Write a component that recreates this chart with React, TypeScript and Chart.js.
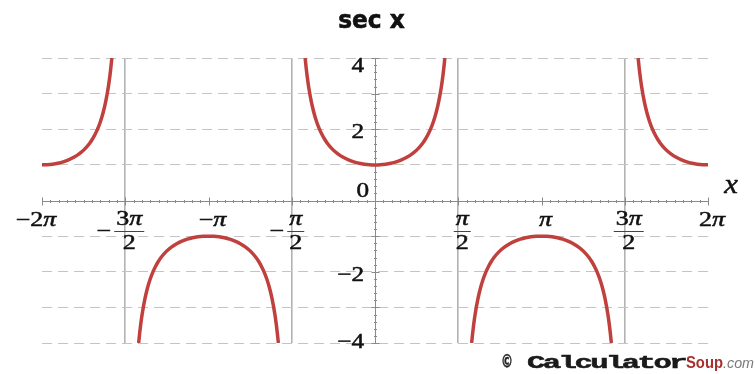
import React, { useEffect, useRef } from 'react';
import { Chart, registerables } from 'chart.js';

Chart.register(...registerables);

const PI = Math.PI;

// One half of a secant branch: distance from the branch centre (radians) and |sec x| there.
const BRANCH_OFFSETS = [0, 0.1, 0.2, 0.3, 0.4, 0.5, 0.6, 0.7, 0.8, 0.9, 0.95, 1.0, 1.05, 1.1, 1.15, 1.2, 1.25, 1.28, 1.3, 1.3181];
const BRANCH_VALUES = [1, 1.005, 1.0203, 1.0468, 1.0857, 1.1395, 1.2116, 1.3075, 1.4353, 1.6087, 1.7191, 1.8508, 2.0098, 2.2046, 2.4481, 2.7597, 3.1714, 3.4878, 3.7383, 4.0];

// Branch centres (multiples of π) and the sign of sec x on each branch.
const BRANCH_CENTERS = [-2, -1, 0, 1, 2];
const BRANCH_SIGNS = [1, -1, 1, -1, 1];

// Plot window: x in multiples of π, y in plain units.
const X_RANGE = [-2, 2];
const Y_RANGE = [-4, 4];

// x ticks (multiples of π) and their labels, written as numerator / denominator.
const X_TICKS = [-2, -1.5, -1, -0.5, 0, 0.5, 1, 1.5, 2];
const X_LABEL_NUM = ['−2π', '3π', '−π', 'π', '', 'π', 'π', '3π', '2π'];
const X_LABEL_DEN = ['', '2', '', '2', '', '2', '', '2', ''];
const X_LABEL_NEG = [false, true, false, true, false, false, false, false, false];

// y tick labels
const Y_LABEL_VALUES = [4, 2, 0, -2, -4];
const Y_LABELS = ['4', '2', '0', '−2', '−4'];

const TITLE = 'sec x';
const AXIS_NAME = 'x';

const CURVE_COLOR = '#c0403e';
const SERIF = '"Liberation Serif", "DejaVu Serif", serif';
const LABEL_SIZE = 20;
const LABEL_SX = 1.3;

function branchPoints(center: number, sign: number) {
  const pts: { x: number; y: number }[] = [];
  const n = BRANCH_OFFSETS.length;
  for (let i = n - 1; i > 0; i--) pts.push({ x: center * PI - BRANCH_OFFSETS[i], y: sign * BRANCH_VALUES[i] });
  for (let i = 0; i < n; i++) pts.push({ x: center * PI + BRANCH_OFFSETS[i], y: sign * BRANCH_VALUES[i] });
  const lo = X_RANGE[0] * PI - 1e-9;
  const hi = X_RANGE[1] * PI + 1e-9;
  return pts.filter((p) => p.x >= lo && p.x <= hi);
}

// Draws text squeezed/stretched horizontally by sx around the anchor.
function stretchText(ctx: CanvasRenderingContext2D, text: string, x: number, y: number, sx: number, align: CanvasTextAlign, bold = 0) {
  ctx.save();
  ctx.translate(x, y);
  ctx.scale(sx, 1);
  ctx.textAlign = align;
  ctx.textBaseline = 'alphabetic';
  ctx.fillText(text, 0, 0);
  if (bold > 0) {
    ctx.lineWidth = bold;
    ctx.strokeStyle = ctx.fillStyle as string;
    ctx.strokeText(text, 0, 0);
  }
  ctx.restore();
}

// Math label: π set in italic, digits and signs upright.
function mathRuns(text: string) {
  const runs: { t: string; italic: boolean }[] = [];
  for (const ch of text) {
    const italic = ch === 'π';
    const last = runs[runs.length - 1];
    if (last && last.italic === italic) last.t += ch;
    else runs.push({ t: ch, italic });
  }
  return runs;
}

function mathWidth(ctx: CanvasRenderingContext2D, text: string, size: number) {
  let w = 0;
  for (const r of mathRuns(text)) {
    ctx.font = `${r.italic ? 'italic ' : ''}${size}px ${SERIF}`;
    w += ctx.measureText(r.t).width;
  }
  return w * LABEL_SX;
}

function drawMath(ctx: CanvasRenderingContext2D, text: string, cx: number, base: number, size: number) {
  const total = mathWidth(ctx, text, size);
  let x = cx - total / 2;
  for (const r of mathRuns(text)) {
    ctx.font = `${r.italic ? 'italic ' : ''}${size}px ${SERIF}`;
    const w = ctx.measureText(r.t).width * LABEL_SX;
    stretchText(ctx, r.t, x, base, LABEL_SX, 'left', 0.5);
    x += w;
  }
  return total;
}

// Draws text from a left edge so it spans exactly `width` pixels.
function fitText(
  ctx: CanvasRenderingContext2D,
  text: string,
  left: number,
  base: number,
  width: number,
  font: string,
  color: string,
  spacing = 0,
  bold = 0
) {
  ctx.save();
  ctx.font = font;
  ctx.fillStyle = color;
  (ctx as any).letterSpacing = `${spacing}px`;
  const w = ctx.measureText(text).width || 1;
  ctx.translate(left, base);
  ctx.scale(width / w, 1);
  ctx.textAlign = 'left';
  ctx.textBaseline = 'alphabetic';
  ctx.fillText(text, 0, 0);
  if (bold > 0) {
    ctx.lineWidth = bold;
    ctx.strokeStyle = color;
    ctx.strokeText(text, 0, 0);
  }
  ctx.restore();
}

const axesPlugin = {
  id: 'secAxes',
  beforeDatasetsDraw(chart: any) {
    const { ctx, chartArea } = chart;
    const xs = chart.scales.x;
    const ys = chart.scales.y;
    const x0 = Math.round(xs.getPixelForValue(0)) + 0.5;
    const y0 = Math.round(ys.getPixelForValue(0)) + 0.5;
    ctx.save();
    ctx.strokeStyle = '#8a8a8a';
    ctx.lineWidth = 1;
    ctx.beginPath();
    // horizontal axis with minor ticks every π/20
    ctx.moveTo(chartArea.left, y0);
    ctx.lineTo(chartArea.right, y0);
    for (let k = -40; k <= 40; k++) {
      const px = Math.round(xs.getPixelForValue((k * PI) / 20)) + 0.5;
      const len = k % 10 === 0 ? 4 : 1.5;
      ctx.moveTo(px, y0 - len);
      ctx.lineTo(px, y0 + len);
    }
    // vertical axis with minor ticks every 0.2
    ctx.moveTo(x0, chartArea.top);
    ctx.lineTo(x0, chartArea.bottom);
    for (let k = -20; k <= 20; k++) {
      const py = Math.round(ys.getPixelForValue(k * 0.2)) + 0.5;
      const len = k % 5 === 0 ? 4 : 1.5;
      ctx.moveTo(x0 - len, py);
      ctx.lineTo(x0 + len, py);
    }
    ctx.stroke();
    ctx.restore();
  },
  afterDraw(chart: any) {
    const { ctx, chartArea } = chart;
    const xs = chart.scales.x;
    const ys = chart.scales.y;
    const x0 = xs.getPixelForValue(0);
    const y0 = ys.getPixelForValue(0);
    ctx.save();

    // title
    ctx.fillStyle = '#111';
    ctx.font = 'bold 24px "DejaVu Sans", sans-serif';
    stretchText(ctx, TITLE, 371.5, 28, 0.97, 'center', 0.6);

    // y labels
    ctx.fillStyle = '#111';
    Y_LABEL_VALUES.forEach((v, i) => {
      const py = ys.getPixelForValue(v);
      ctx.font = `21px ${SERIF}`;
      if (v === 0) {
        stretchText(ctx, Y_LABELS[i], x0 - 6, y0 - 4, 1.2, 'right', 0.5);
        return;
      }
      const base = Math.min(Math.max(py + 9, chartArea.top + 14), chartArea.bottom + 5);
      stretchText(ctx, Y_LABELS[i], x0 - 11, base, 1.2, 'right', 0.5);
    });

    // x labels
    X_TICKS.forEach((t, i) => {
      const num = X_LABEL_NUM[i];
      if (!num) return;
      const px = xs.getPixelForValue(t * PI);
      const den = X_LABEL_DEN[i];
      if (!den) {
        const cx = i === 0 ? px - 6 : px + 4;
        drawMath(ctx, num, cx, y0 + 25, LABEL_SIZE);
        return;
      }
      const cx = px + 4;
      const numW = mathWidth(ctx, num, LABEL_SIZE);
      const barHalf = numW / 2 + 2;
      drawMath(ctx, num, cx, y0 + 24, LABEL_SIZE);
      drawMath(ctx, den, cx, y0 + 48, LABEL_SIZE);
      ctx.strokeStyle = '#444';
      ctx.lineWidth = 1;
      ctx.beginPath();
      ctx.moveTo(cx - barHalf, Math.round(y0 + 30) + 0.5);
      ctx.lineTo(cx + barHalf, Math.round(y0 + 30) + 0.5);
      ctx.stroke();
      if (X_LABEL_NEG[i]) {
        const mw = mathWidth(ctx, '−', LABEL_SIZE);
        drawMath(ctx, '−', cx - barHalf - 3 - mw / 2, y0 + 36, LABEL_SIZE);
      }
    });

    // axis name
    ctx.font = `italic 28px ${SERIF}`;
    stretchText(ctx, AXIS_NAME, 731, 193, 1.1, 'center', 0.5);

    // site mark
    fitText(ctx, '©', 501, 367, 12, 'bold 17px "DejaVu Sans", sans-serif', '#222', 0, 0.4);
    fitText(ctx, 'Calculator', 527, 368, 158, 'bold 18px "Liberation Mono", monospace', '#1a1a1a', -1.5, 0.5);
    fitText(ctx, 'Soup', 686, 368, 37, 'bold 17px "Liberation Sans", sans-serif', '#a8302e');
    fitText(ctx, '.com', 723, 368, 31, 'italic 15px "Liberation Sans", sans-serif', '#7a7a7a');

    ctx.restore();
  },
};

export default function App() {
  const canvasRef = useRef<HTMLCanvasElement | null>(null);

  useEffect(() => {
    const canvas = canvasRef.current;
    if (!canvas) return;

    const datasets = BRANCH_CENTERS.map((c, i) => ({
      data: branchPoints(c, BRANCH_SIGNS[i]),
      showLine: true,
      borderColor: CURVE_COLOR,
      borderWidth: 3.5,
      pointRadius: 0,
      cubicInterpolationMode: 'monotone' as const,
      fill: false,
    }));

    const chart = new Chart(canvas, {
      type: 'scatter',
      data: { datasets },
      options: {
        responsive: false,
        animation: false,
        devicePixelRatio: 1,
        layout: { padding: { left: 42, right: 47, top: 58, bottom: 31 } },
        plugins: {
          legend: { display: false },
          tooltip: { enabled: false },
          title: { display: false },
        },
        scales: {
          x: {
            type: 'linear',
            min: X_RANGE[0] * PI,
            max: X_RANGE[1] * PI,
            afterBuildTicks: (s: any) => {
              s.ticks = X_TICKS.map((v) => ({ value: v * PI }));
            },
            afterFit: (s: any) => {
              s.height = 0;
            },
            ticks: { display: false },
            border: { display: false },
            grid: {
              drawTicks: false,
              lineWidth: 1.6,
              color: (c: any) => {
                const v = c.tick ? c.tick.value / (PI / 2) : 0;
                const k = Math.round(v);
                return Math.abs(k) % 2 === 1 ? '#b2b2b2' : 'rgba(0,0,0,0)';
              },
            },
          },
          y: {
            type: 'linear',
            min: Y_RANGE[0],
            max: Y_RANGE[1],
            afterFit: (s: any) => {
              s.width = 0;
            },
            ticks: { display: false, stepSize: 1 },
            border: { display: false, dash: [10, 6] },
            grid: {
              drawTicks: false,
              lineWidth: 1,
              color: (c: any) => (c.tick && c.tick.value === 0 ? 'rgba(0,0,0,0)' : '#c4c4c4'),
            },
          },
        },
      },
      plugins: [axesPlugin],
    });

    return () => chart.destroy();
  }, []);

  return (
    <div style={{ position: 'fixed', left: 0, top: 0, width: 755, height: 374, background: '#fff' }}>
      <canvas ref={canvasRef} width={755} height={374} style={{ display: 'block' }} />
    </div>
  );
}
